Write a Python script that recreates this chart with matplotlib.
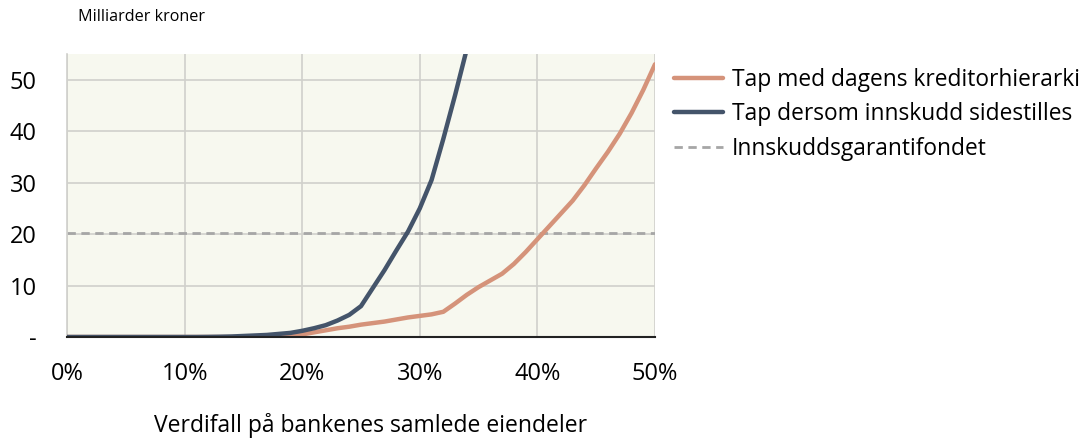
import matplotlib
matplotlib.use("Agg")
import matplotlib.pyplot as plt
from matplotlib.ticker import FuncFormatter

plt.rcParams['font.family'] = ['Open Sans', 'DejaVu Sans']

# Data (percent value loss, billions NOK)
pct = list(range(0, 51))
tap_dagens = [0]*19 + [0.2, 0.5, 0.9, 1.3, 1.7, 2.0, 2.4, 2.7, 3.0, 3.4, 3.8, 4.1, 4.4, 4.9,
                       6.5, 8.2, 9.7, 11.0, 12.3, 14.2, 16.5, 19.0, 21.5, 24.0, 26.5,
                       29.5, 32.8, 36.0, 39.5, 43.5, 48.0, 53.0]
pct_sidestilt = list(range(0, 35))
tap_sidestilt = [0]*12 + [0.02, 0.05, 0.1, 0.2, 0.3, 0.4, 0.6, 0.8, 1.2, 1.7, 2.3, 3.2, 4.3,
                          6.0, 9.5, 13.0, 16.8, 20.5, 25.0, 30.5, 38.5, 47.0, 56.0]
garantifond = 20.3

x_ticks = [0, 10, 20, 30, 40, 50]
y_ticks = [0, 10, 20, 30, 40, 50]

fig = plt.figure(figsize=(10.89, 4.38), dpi=100)
ax = fig.add_axes([67/1089, 1-337/438, (655-67)/1089, (337-54)/438])
ax.set_facecolor('#F7F8EF')

l1, = ax.plot(pct, tap_dagens, color='#D5937A', lw=3.2, solid_capstyle='round',
              label='Tap med dagens kreditorhierarki', zorder=3)
l2, = ax.plot(pct_sidestilt, tap_sidestilt, color='#44546A', lw=3.2, solid_capstyle='round',
              label='Tap dersom innskudd sidestilles', zorder=4)
l3 = ax.axhline(garantifond, color='#A6A6A6', lw=2, ls=(0, (3, 2)),
                label='Innskuddsgarantifondet', zorder=2)

ax.set_xlim(0, 50)
ax.set_ylim(0, 55)
ax.set_xticks(x_ticks)
ax.set_yticks(y_ticks)
ax.xaxis.set_major_formatter(FuncFormatter(lambda v, p: f"{int(v)}%"))
ax.yaxis.set_major_formatter(FuncFormatter(lambda v, p: "-" if v == 0 else f"{int(v)}"))
ax.tick_params(axis='both', length=0, labelsize=17, colors='black')
ax.tick_params(axis='x', pad=18)
ax.tick_params(axis='y', pad=22)
ax.grid(True, color='#D0D0CC', lw=1.2)
ax.set_axisbelow(True)
for s in ['top', 'right']:
    ax.spines[s].set_visible(False)
ax.spines['left'].set_color('#D0D0CC')
ax.spines['left'].set_linewidth(1.2)
ax.spines['bottom'].set_color('#222222')
ax.spines['bottom'].set_linewidth(1.5)
ax.spines['bottom'].set_zorder(5)

ax.set_xlabel('Verdifall på bankenes samlede eiendeler', fontsize=16.5)
ax.xaxis.set_label_coords((371-67)/588, -(425-337)/283, transform=ax.transAxes)
ax.xaxis.label.set_va('center')
fig.text(78/1089, 1-17/438, 'Milliarder kroner', fontsize=11.6, va='center', ha='left')

leg = fig.legend(handles=[l1, l2, l3], loc='upper left', bbox_to_anchor=(665/1089, 1-59/438),
                 frameon=False, fontsize=16.4, handlelength=2.15, handletextpad=0.4,
                 labelspacing=0.45, borderaxespad=0)

fig.savefig('out.png', dpi=100)
